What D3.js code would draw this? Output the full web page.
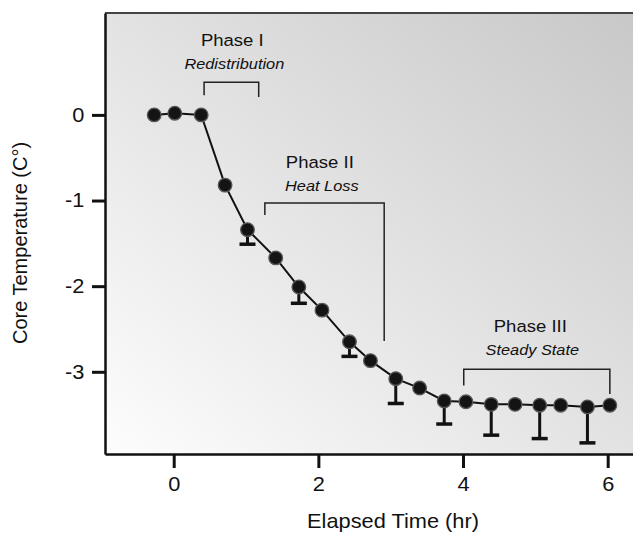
<!DOCTYPE html>
<html>
<head>
<meta charset="utf-8">
<script src="https://cdn.jsdelivr.net/npm/d3@7"></script>
<style>
  body { margin: 0; background: #fff; }
  svg text { font-family: "Liberation Sans", Arial, Helvetica, sans-serif; fill: #111; }
</style>
</head>
<body>
<div id="chart"></div>
<script>
// elapsed time (hr) and mean core temperature change (C)
var times = [-0.27, 0.015, 0.38, 0.71, 1.02, 1.41, 1.73, 2.05, 2.43, 2.72,
             3.07, 3.40, 3.74, 4.04, 4.39, 4.72, 5.06, 5.35, 5.72, 6.03];
var temps = [0.00, 0.02, 0.00, -0.82, -1.34, -1.67, -2.01, -2.28, -2.65, -2.87,
             -3.08, -3.19, -3.34, -3.35, -3.38, -3.38, -3.39, -3.39, -3.41, -3.39];
// lower error bar length (0 = none drawn)
var errs = [0, 0, 0, 0, 0.17, 0, 0.19, 0, 0.17, 0,
            0.29, 0, 0.27, 0, 0.36, 0, 0.39, 0, 0.42, 0];

var xTicks = [0, 2, 4, 6];
var yTicks = [0, -1, -2, -3];

// phase annotations: bracket start/end (hr), bracket top, left/right leg ends (C)
var phaseNames = ["Phase I", "Phase II", "Phase III"];
var phaseSubs = ["Redistribution", "Heat Loss", "Steady State"];
var phaseStart = [0.42, 1.26, 4.01];
var phaseEnd = [1.175, 2.91, 6.03];
var phaseTop = [0.38, -1.03, -2.97];
var phaseLeftEnd = [0.23, -1.17, -3.16];
var phaseRightEnd = [0.21, -2.64, -3.26];
var phaseLabelX = [0.81, 2.02, 4.93];
var phaseLabelY = [0.80, -0.62, -2.535];

var width = 633,
    height = 533,
    margin = { left: 105, top: 13, right: 0, bottom: 79 },
    stretch = 1.09;

var x = d3.scaleLinear()
    .domain([-0.95, 6.35])
    .range([margin.left, width - margin.right]);

var y = d3.scaleLinear()
    .domain([-3.96, 1.19])
    .range([height - margin.bottom, margin.top]);

var svg = d3.select("#chart").append("svg")
    .attr("width", width)
    .attr("height", height);

var grad = svg.append("defs").append("linearGradient")
    .attr("id", "bg")
    .attr("x1", 0).attr("y1", 1)
    .attr("x2", 1).attr("y2", 0);
grad.append("stop").attr("offset", "0%").attr("stop-color", "#fdfdfd");
grad.append("stop").attr("offset", "100%").attr("stop-color", "#c8c8c8");

svg.append("rect")
    .attr("x", margin.left)
    .attr("y", margin.top)
    .attr("width", width - margin.left - margin.right)
    .attr("height", height - margin.top - margin.bottom)
    .attr("fill", "url(#bg)");

// top frame line
svg.append("line")
    .attr("x1", margin.left).attr("x2", width)
    .attr("y1", margin.top).attr("y2", margin.top)
    .attr("stroke", "#444").attr("stroke-width", 2);

var xAxis = svg.append("g")
    .attr("transform", "translate(0," + (height - margin.bottom) + ")")
    .call(d3.axisBottom(x).tickValues(xTicks).tickSize(14).tickPadding(9).tickSizeOuter(0));

var yAxis = svg.append("g")
    .attr("transform", "translate(" + margin.left + ",0)")
    .call(d3.axisLeft(y).tickValues(yTicks).tickSize(13).tickPadding(6).tickSizeOuter(0)
      .tickFormat(d3.format("d")));

[xAxis, yAxis].forEach(function(ax) {
  ax.select(".domain").attr("stroke", "#111").attr("stroke-width", 2.5);
  ax.selectAll(".tick line").attr("stroke", "#111").attr("stroke-width", 3);
  ax.selectAll(".tick text")
    .attr("font-size", 20)
    .attr("fill", "#111")
    .attr("transform", "scale(" + stretch + ",1)");
});
yAxis.selectAll(".tick text").text(function(d) { return d === 0 ? "0" : String(d).replace("\u2212", "-"); });

// brackets
var brackets = svg.append("g");
phaseNames.forEach(function(name, i) {
  var pts = [
    [x(phaseStart[i]), y(phaseLeftEnd[i])],
    [x(phaseStart[i]), y(phaseTop[i])],
    [x(phaseEnd[i]), y(phaseTop[i])],
    [x(phaseEnd[i]), y(phaseRightEnd[i])]
  ];
  brackets.append("path")
    .attr("d", d3.line()(pts))
    .attr("fill", "none")
    .attr("stroke", "#222")
    .attr("stroke-width", 1.5);

  brackets.append("text")
    .attr("transform", "translate(" + x(phaseLabelX[i]) + "," + y(phaseLabelY[i]) + ") scale(" + stretch + ",1)")
    .attr("text-anchor", "middle")
    .attr("font-size", 17)
    .text(name);

  brackets.append("text")
    .attr("transform", "translate(" + (x(phaseLabelX[i]) + 2) + "," + (y(phaseLabelY[i]) + 23) + ") scale(" + stretch + ",1)")
    .attr("text-anchor", "middle")
    .attr("font-size", 15)
    .attr("font-style", "italic")
    .text(phaseSubs[i]);
});

var data = times.map(function(t, i) { return { t: t, v: temps[i], e: errs[i] }; });

// error bars (lower only)
var eb = svg.append("g").selectAll("g")
    .data(data.filter(function(d) { return d.e > 0; }))
    .enter().append("g");
eb.append("line")
    .attr("x1", function(d) { return x(d.t); })
    .attr("x2", function(d) { return x(d.t); })
    .attr("y1", function(d) { return y(d.v); })
    .attr("y2", function(d) { return y(d.v - d.e); })
    .attr("stroke", "#111").attr("stroke-width", 3);
eb.append("line")
    .attr("x1", function(d) { return x(d.t) - 8; })
    .attr("x2", function(d) { return x(d.t) + 8; })
    .attr("y1", function(d) { return y(d.v - d.e); })
    .attr("y2", function(d) { return y(d.v - d.e); })
    .attr("stroke", "#111").attr("stroke-width", 3.5);

svg.append("path")
    .datum(data)
    .attr("d", d3.line()
      .x(function(d) { return x(d.t); })
      .y(function(d) { return y(d.v); }))
    .attr("fill", "none")
    .attr("stroke", "#111")
    .attr("stroke-width", 2);

svg.append("g").selectAll("circle")
    .data(data)
    .enter().append("circle")
    .attr("cx", function(d) { return x(d.t); })
    .attr("cy", function(d) { return y(d.v); })
    .attr("r", 6.8)
    .attr("fill", "#141414")
    .attr("stroke", "#585858")
    .attr("stroke-width", 1.3);

// axis titles
svg.append("text")
    .attr("transform", "translate(393,528) scale(" + stretch + ",1)")
    .attr("text-anchor", "middle")
    .attr("font-size", 20)
    .text("Elapsed Time (hr)");

svg.append("text")
    .attr("transform", "translate(27,243) rotate(-90)")
    .attr("text-anchor", "middle")
    .attr("font-size", 20)
    .text("Core Temperature (C°)");
</script>
</body>
</html>
